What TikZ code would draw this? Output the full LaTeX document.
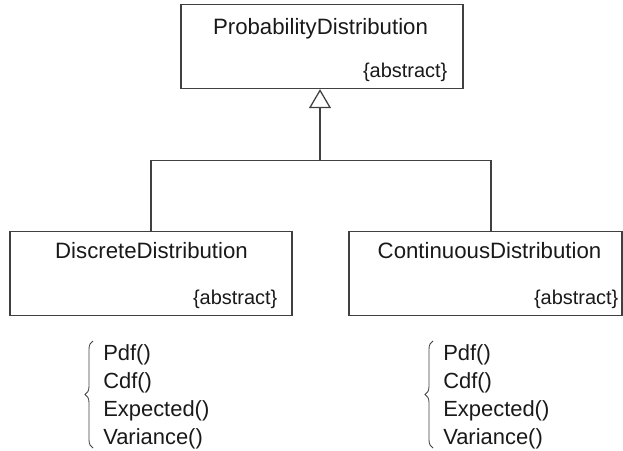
\documentclass[tikz,border=0pt]{standalone}
\usepackage{fontspec}
\setmainfont{Liberation Sans}
\usetikzlibrary{positioning,decorations.pathreplacing,arrows.meta,calc}

\begin{document}
\begin{tikzpicture}[x=0.025cm, y=-0.025cm,
  classbox/.style={draw=black!75, line width=0.9pt, rectangle, minimum width=7.05cm, minimum height=2.1cm, inner sep=0pt},
  classname/.style={text=black!90, font=\fontsize{15.8}{19}\selectfont, inner sep=0pt, anchor=base},
  stereo/.style={text=black!90, font=\fontsize{14.2}{17}\selectfont, inner sep=0pt, anchor=base east},
  method/.style={text=black!90, font=\fontsize{15.6}{19}\selectfont, inner sep=0pt, anchor=base west},
  methodbrace/.style={draw=black!75, line width=0.6pt, decorate, decoration={brace, amplitude=0.2cm}},
  link/.style={draw=black!75, line width=0.9pt},
  generalize/.style={link, -{Triangle[open, length=0.475cm, width=0.55cm]}}]
%PICTURE SCOPE
\useasboundingbox (0,0) rectangle (623,451);
%%CLASSES
\node (prob) [classbox] at (322, 46.5) {};
\node (disc) [classbox] at (151, 273.5) {};
\node (cont) [classbox, minimum width=6.825cm] at (485.5, 273.5) {};
%%NAMES
\node (probname) [classname] at ($(prob.north)+(-1.5, 31)$) {ProbabilityDistribution};
\node (discname) [classname] at ($(disc.north)+(0.5, 28)$) {DiscreteDistribution};
\node (contname) [classname] at ($(cont.north)+(4, 28)$) {ContinuousDistribution};
%%STEREOTYPES
\node (probabs) [stereo] at ($(prob.south east)+(-16, -12)$) {\{abstract\}};
\node (discabs) [stereo] at ($(disc.south east)+(-15, -12)$) {\{abstract\}};
\node (contabs) [stereo] at ($(cont.south east)+(-4, -12)$) {\{abstract\}};
%%METHODS
\node (dpdf) [method] at (103, 360) {Pdf()};
\node (dcdf) [method] at (103, 388) {Cdf()};
\node (dexp) [method] at (103, 416) {Expected()};
\node (dvar) [method] at (103, 444) {Variance()};
%
\node (cpdf) [method] at (443, 360) {Pdf()};
\node (ccdf) [method] at (443, 388) {Cdf()};
\node (cexp) [method] at (443, 416) {Expected()};
\node (cvar) [method] at (443, 444) {Variance()};
%%BRACES
\draw [methodbrace] ($(dvar.base west)+(-10, 4)$) -- ($(dpdf.base west)+(-10, -19)$);
\draw [methodbrace] ($(cvar.base west)+(-10, 4)$) -- ($(cpdf.base west)+(-10, -19)$);
%%INHERITANCE
\coordinate (junc) at ($(prob.south)+(-2, 71)$);
\coordinate (contjoin) at ($(cont.north)+(5.5, 0)$);
\draw [link] (disc.north) |- (junc) -| (contjoin);
\draw [generalize] (junc) -- (junc |- prob.south);
\end{tikzpicture}
\end{document}
